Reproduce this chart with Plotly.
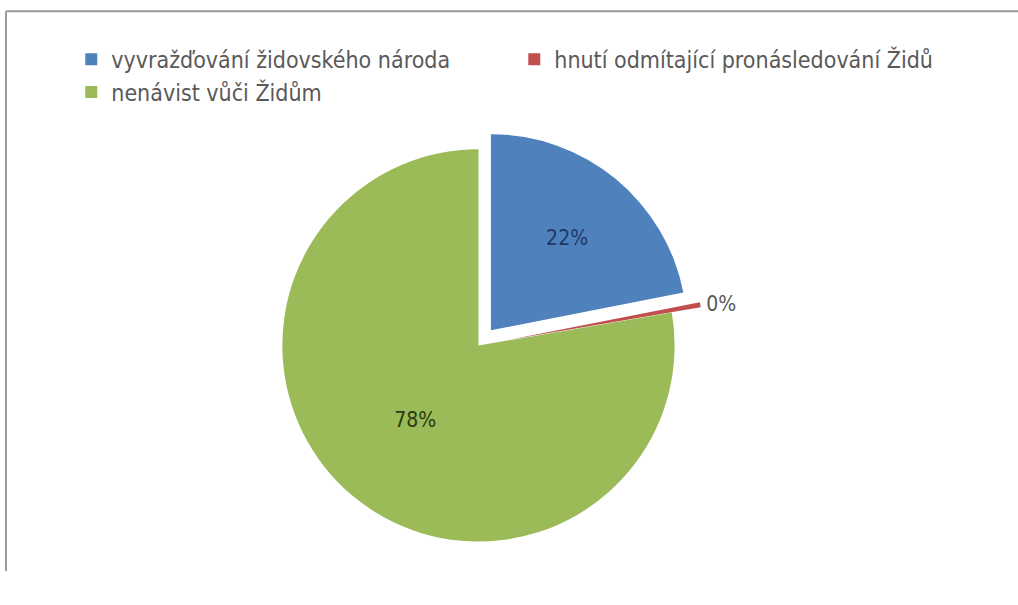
import plotly.graph_objects as go

labels = ["vyvražďování židovského národa", "hnutí odmítající pronásledování Židů", "nenávist vůči Židům"]
values = [22, 0.4, 78]
colors = ["#4F81BD", "#C0504D", "#9BBB59"]
pulls = [0.1, 0.15, 0]
text_pos = ["inside", "outside", "inside"]
text_colors = ["#1F3864", "#595959", "#2B3A10"]

FONT = "DejaVu Sans Condensed, Liberation Sans, sans-serif"

fig = go.Figure(go.Pie(
    labels=labels,
    values=values,
    sort=False,
    direction="clockwise",
    rotation=0,
    pull=pulls,
    marker=dict(colors=colors, line=dict(color="#ffffff", width=0)),
    texttemplate="%{percent:.0%}",
    textposition=text_pos,
    insidetextorientation="horizontal",
    textfont=dict(family=FONT, size=21, color=text_colors),
    domain=dict(x=[0.19, 0.75], y=[0.0, 0.79]),
    hoverinfo="label+percent",
))

fig.update_layout(
    width=1018, height=605,
    margin=dict(l=0, r=0, t=0, b=0),
    paper_bgcolor="white",
    plot_bgcolor="white",
    font=dict(family=FONT, size=23, color="#595959"),
    legend=dict(
        orientation="h",
        x=0.07, y=0.934, xanchor="left", yanchor="top",
        entrywidth=398,
        font=dict(family=FONT, size=23, color="#595959"),
        traceorder="normal",
    ),
    showlegend=True,
    shapes=[
        dict(type="line", xref="paper", yref="paper", x0=6/1018, x1=1.0, y0=1 - 12/605, y1=1 - 12/605,
             line=dict(color="#9a9a9a", width=2)),
        dict(type="line", xref="paper", yref="paper", x0=6/1018, x1=6/1018, y0=0, y1=1 - 12/605,
             line=dict(color="#9a9a9a", width=2)),
    ],
)

fig.write_html(
    "out.html",
    config={"displayModeBar": False},
    post_script="document.body.style.margin='0';document.body.style.overflow='hidden';",
)
